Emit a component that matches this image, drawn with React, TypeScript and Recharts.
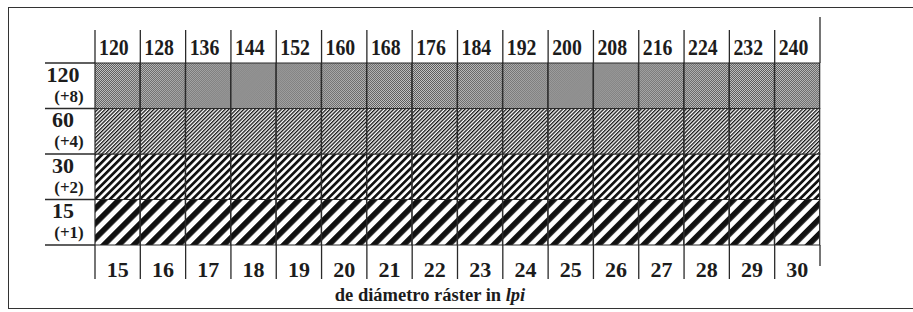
import React from "react";
import { Bar, BarChart, XAxis, YAxis } from "recharts";

// column labels
const bottomLabels = [15, 16, 17, 18, 19, 20, 21, 22, 23, 24, 25, 26, 27, 28, 29, 30];
const topLabels = [120, 128, 136, 144, 152, 160, 168, 176, 184, 192, 200, 208, 216, 224, 232, 240];

// rows, bottom to top
const rowLpi = [15, 30, 60, 120];
const rowSteps = ["(+1)", "(+2)", "(+4)", "(+8)"];
const rightLabels = [30, 60, 120, 240];
const rowHeights = [1, 1, 1, 1];
const rowTicks = [0, 0.5, 1, 1.5, 2, 2.5, 3, 3.5, 4];

const rowKeys = ["r15", "r30", "r60", "r120"];

const data = bottomLabels.map((b, i) => ({
  bottom: b,
  top: topLabels[i],
  r15: rowHeights[0],
  r30: rowHeights[1],
  r60: rowHeights[2],
  r120: rowHeights[3],
}));

const W = 913;
const H = 312;
const LEFT_W = 95;
const RIGHT_W = 93;
const TOP_H = 63;
const BOTTOM_H = 67;
const BAND = (W - LEFT_W - RIGHT_W) / bottomLabels.length;
const INK = "#1c1c1c";
const LINE = "#2a2a2a";
const FONT = "'Liberation Serif', 'Times New Roman', serif";

const TopTick = (props: any) => {
  const { x, index } = props;
  const left = x - BAND / 2;
  const last = index === topLabels.length - 1;
  return (
    <g>
      <line x1={left} x2={left} y1={30} y2={TOP_H} stroke={LINE} strokeWidth={1.3} />
      {last && <line x1={left + BAND} x2={left + BAND} y1={17} y2={TOP_H} stroke={LINE} strokeWidth={1.3} />}
      <text
        transform={`translate(${left + 4},55) scale(0.86,1)`}
        fontSize={23}
        fontWeight="bold"
        fill={INK}
        fontFamily={FONT}
      >
        {props.payload.value}
      </text>
    </g>
  );
};

const BottomTick = (props: any) => {
  const { x, index } = props;
  const left = x - BAND / 2;
  const last = index === bottomLabels.length - 1;
  const top = H - BOTTOM_H;
  return (
    <g>
      <line x1={left} x2={left} y1={top} y2={279} stroke={LINE} strokeWidth={1.3} />
      {last && <line x1={left + BAND} x2={left + BAND} y1={top} y2={266} stroke={LINE} strokeWidth={1.3} />}
      <text x={x} y={277} textAnchor="middle" fontSize={22} fontWeight="bold" fill={INK} fontFamily={FONT}>
        {props.payload.value}
      </text>
    </g>
  );
};

const LeftTick = (props: any) => {
  const { y, payload } = props;
  const v = payload.value;
  if (Number.isInteger(v)) {
    return <line x1={45} x2={LEFT_W} y1={y} y2={y} stroke={LINE} strokeWidth={1.3} />;
  }
  const i = Math.floor(v);
  return (
    <g fontFamily={FONT} fontWeight="bold" fill={INK}>
      <text x={63} y={y - 4} textAnchor="middle" fontSize={22}>
        {rowLpi[i]}
      </text>
      <text x={69} y={y + 16} textAnchor="middle" fontSize={17}>
        {rowSteps[i]}
      </text>
    </g>
  );
};

const RightTick = (props: any) => {
  const { y, payload } = props;
  const v = payload.value;
  const x0 = W - RIGHT_W;
  if (Number.isInteger(v)) {
    return <line x1={x0} x2={862} y1={y} y2={y} stroke={LINE} strokeWidth={1.3} />;
  }
  const i = Math.floor(v);
  return (
    <text x={865} y={y + 12} textAnchor="end" fontSize={22.5} fontWeight="bold" fill={INK} fontFamily={FONT}>
      {rightLabels[i]}
    </text>
  );
};

const Caption = (props: any) => {
  const { viewBox } = props;
  return (
    <text x={430} y={viewBox.y + 56} textAnchor="middle" fontSize={18.5} fontWeight="bold" fill={INK} fontFamily={FONT}>
      de diámetro ráster in <tspan fontStyle="italic">lpi</tspan>
    </text>
  );
};

export default function App() {
  return (
    <div style={{ position: "absolute", left: 0, top: 0, width: W, height: H, background: "#fff" }}>
      <div
        style={{
          position: "absolute",
          left: 8,
          top: 7,
          width: W - 8,
          height: 302,
          boxSizing: "border-box",
          borderTop: "1.5px solid #333",
          borderLeft: "1.5px solid #333",
          borderBottom: "1.5px solid #333",
        }}
      />
      <BarChart
        width={W}
        height={H}
        data={data}
        barCategoryGap={0}
        barGap={0}
        margin={{ top: 0, right: 0, bottom: 0, left: 0 }}
        style={{ position: "absolute", left: 0, top: 0 }}
      >
        <defs>
          <pattern id="p15" width={10.6} height={10} patternUnits="userSpaceOnUse" patternTransform="rotate(45)">
            <rect width={10.6} height={10} fill="#fff" />
            <rect width={5.6} height={10} fill="#111" />
          </pattern>
          <pattern id="p30" width={5.3} height={10} patternUnits="userSpaceOnUse" patternTransform="rotate(45)">
            <rect width={5.3} height={10} fill="#fff" />
            <rect width={2.7} height={10} fill="#111" />
          </pattern>
          <pattern id="p60" width={2.65} height={10} patternUnits="userSpaceOnUse" patternTransform="rotate(45)">
            <rect width={2.65} height={10} fill="#fff" />
            <rect width={1.3} height={10} fill="#111" />
          </pattern>
          <pattern id="p120" width={1.41} height={10} patternUnits="userSpaceOnUse" patternTransform="rotate(45)">
            <rect width={1.41} height={10} fill="#c4c4c4" />
            <rect width={0.7} height={10} fill="#5a5a5a" />
          </pattern>
        </defs>
        <XAxis
          xAxisId="top"
          orientation="top"
          dataKey="top"
          height={TOP_H}
          axisLine={false}
          tickLine={false}
          interval={0}
          tick={<TopTick />}
        />
        <XAxis
          xAxisId="bottom"
          dataKey="bottom"
          height={BOTTOM_H}
          axisLine={false}
          tickLine={false}
          interval={0}
          tick={<BottomTick />}
          label={{ content: <Caption /> }}
        />
        <YAxis
          yAxisId="left"
          type="number"
          domain={[0, 4]}
          ticks={rowTicks}
          width={LEFT_W}
          axisLine={false}
          tickLine={false}
          interval={0}
          tick={<LeftTick />}
        />
        <YAxis
          yAxisId="right"
          orientation="right"
          type="number"
          domain={[0, 4]}
          ticks={rowTicks}
          width={RIGHT_W}
          axisLine={false}
          tickLine={false}
          interval={0}
          tick={<RightTick />}
        />
        {rowKeys.map((k) => (
          <Bar
            key={k}
            dataKey={k}
            stackId="s"
            xAxisId="bottom"
            yAxisId="left"
            fill={`url(#p${k.slice(1)})`}
            stroke={LINE}
            strokeWidth={1.2}
            isAnimationActive={false}
          />
        ))}
      </BarChart>
    </div>
  );
}
